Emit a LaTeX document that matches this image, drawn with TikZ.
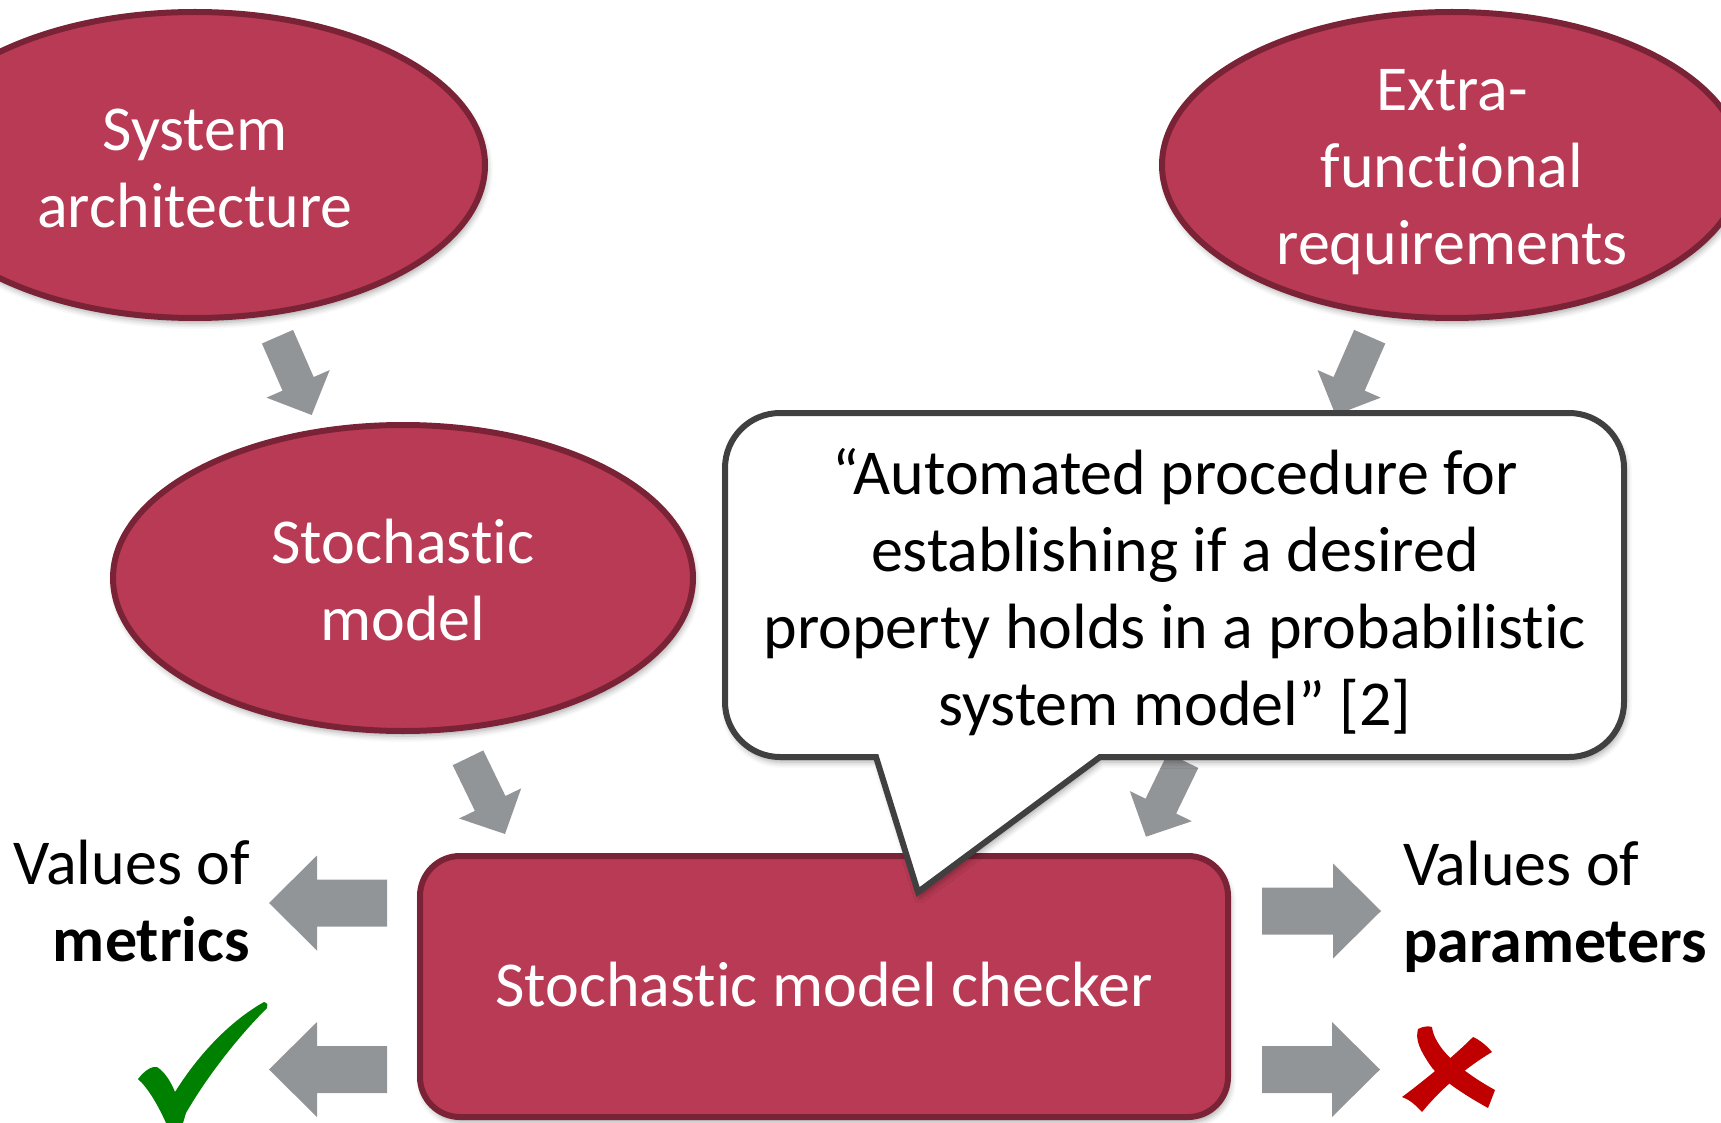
\documentclass[tikz,border=0pt]{standalone}
\usepackage{fontspec}
\setmainfont{Carlito}[Ligatures={NoCommon,NoContextual}]
\usetikzlibrary{calc,shapes.geometric,shadows.blur}

\definecolor{ovalfill}{RGB}{184,58,84}
\definecolor{ovaledge}{RGB}{122,35,55}
\definecolor{arrowgray}{RGB}{146,149,152}
\definecolor{bubbleedge}{RGB}{64,64,64}
\definecolor{checkgreen}{RGB}{0,128,0}
\definecolor{crossred}{RGB}{192,0,0}

\newcommand\diagfont{\fontsize{64}{77}\selectfont}

% Block arrow from tail #1 to tip #2: shaft half-width #3, head half-width #4, head length #5
\newcommand\blockarrow[5]{%
  \path ($(#2)!#5!(#1)$) coordinate (hb);
  \fill[arrowgray] ($(#1)!#3!90:(#2)$) -- ($(hb)!#3!90:(#2)$) -- ($(hb)!#4!90:(#2)$)
    -- (#2) -- ($(hb)!#4!-90:(#2)$) -- ($(hb)!#3!-90:(#2)$) -- ($(#1)!#3!-90:(#2)$) -- cycle;}

\begin{document}
\begin{tikzpicture}[x=1pt,y=-1pt,
  softshadow/.style={blur shadow={shadow xshift=2pt, shadow yshift=-5pt,
      shadow blur radius=6pt, shadow opacity=35}},
  oval/.style={ellipse, draw=ovaledge, fill=ovalfill, line width=6pt,
    minimum width=580pt, minimum height=306pt, inner sep=0pt, softshadow},
  checkerbox/.style={rectangle, rounded corners=40pt, draw=ovaledge, fill=ovalfill,
    line width=6pt, minimum width=808pt, minimum height=261pt, inner sep=0pt,
    font=\diagfont, text=white, text height=40pt, text depth=0pt, softshadow},
  intext/.style={font=\diagfont, text=white, align=center, inner sep=0pt, anchor=north},
  bubbletext/.style={font=\diagfont, text=black, align=center, inner sep=0pt, anchor=north},
  lbl/.style={font=\diagfont, text=black, inner sep=0pt},
  speech/.style={draw=bubbleedge, fill=white, line width=6pt, line join=miter, softshadow}
]
\useasboundingbox (0,0) rectangle (1721,1123);
\clip (0,0) rectangle (1721,1123);

% ---- arrow end points ----
\coordinate (a1t) at (277.5,336.7);  \coordinate (a1h) at (311.7,415);
\coordinate (a2t) at (1369.7,336.7); \coordinate (a2h) at (1335.5,415);
\coordinate (a3t) at (468,757.8);    \coordinate (a3h) at (505,834);
\coordinate (a4t) at (1183,760.5);   \coordinate (a4h) at (1146,836.7);
\coordinate (l1t) at (387,903);      \coordinate (l1h) at (269,903);
\coordinate (l2t) at (387,1069.5);   \coordinate (l2h) at (269,1069.5);
\coordinate (r1t) at (1262,911);     \coordinate (r1h) at (1381,911);
\coordinate (r2t) at (1262,1069.5);  \coordinate (r2h) at (1380,1069.5);

% ---- gray block arrows ----
\blockarrow{a1t}{a1h}{17pt}{34.5pt}{34pt}
\blockarrow{a2t}{a2h}{17pt}{34.5pt}{34pt}
\blockarrow{a3t}{a3h}{17pt}{34.5pt}{34pt}
\blockarrow{a4t}{a4h}{17pt}{34.5pt}{34pt}
\blockarrow{l1t}{l1h}{23.5pt}{47.5pt}{48pt}
\blockarrow{l2t}{l2h}{23.5pt}{47.5pt}{48pt}
\blockarrow{r1t}{r1h}{23.5pt}{47.5pt}{48pt}
\blockarrow{r2t}{r2h}{23.5pt}{47.5pt}{48pt}

% ---- ovals ----
\node[oval] (sysarch) at (195,165) {};
\node[oval] (extrafn) at (1452,165) {};
\node[oval] (stochm)  at (403,578) {};

\node[intext] (sysarchtxt) at (195,96) {\strut System\\architecture};
\node[intext] (extrafntxt) at (1452,56) {\strut Extra-\\functional\\requirements};
\node[intext] (stochmtxt)  at (403,509) {\strut Stochastic\\model};

% ---- model checker ----
\node[checkerbox] (checker) at (824,986.5) {Stochastic model checker};

% ---- speech bubble with its tail on the checker ----
\draw[speech] (876,757) -- (918,892) -- (1100,757) -- (1569,757)
  arc[start angle=90, end angle=0, radius=55] -- (1624,468)
  arc[start angle=0, end angle=-90, radius=55] -- (780,413)
  arc[start angle=-90, end angle=-180, radius=55] -- (725,702)
  arc[start angle=180, end angle=90, radius=55] -- cycle;
\node[bubbletext] (quote) at (1175,440)
  {\strut “Automated procedure for\\establishing if a desired\\property holds in a probabilistic\\system model” [2]};

% ---- outputs ----
\node[lbl, anchor=north east, align=right] (metrics) at (250,830) {\strut Values of\\\textbf{metrics}};
\node[lbl, anchor=north west, align=left] (params) at (1403,831) {\strut Values of\\\textbf{parameters}};

% check mark
\fill[checkgreen] (166,1123) .. controls (158,1105) and (148,1088) .. (138,1079)
  .. controls (145,1070) and (152,1066) .. (157,1067)
  .. controls (165,1072) and (171,1082) .. (175,1092)
  .. controls (200,1052) and (232,1020) .. (264,1002)
  .. controls (268,1003) and (268,1006) .. (267,1008)
  .. controls (235,1040) and (205,1080) .. (186,1113) -- (183,1123) -- cycle;

% cross
\fill[crossred] (1418,1029) .. controls (1424,1026) and (1428,1026) .. (1432,1027)
  .. controls (1434,1045) and (1455,1068) .. (1495,1090)
  .. controls (1492,1098) and (1490,1103) .. (1488,1108)
  .. controls (1470,1098) and (1440,1080) .. (1430,1065)
  .. controls (1420,1050) and (1415,1040) .. cycle;
\fill[crossred] (1473,1037) .. controls (1480,1040) and (1487,1046) .. (1492,1052)
  .. controls (1465,1068) and (1440,1090) .. (1422,1112)
  .. controls (1415,1104) and (1408,1099) .. (1402,1097)
  .. controls (1425,1080) and (1455,1055) .. cycle;
\end{tikzpicture}
\end{document}
